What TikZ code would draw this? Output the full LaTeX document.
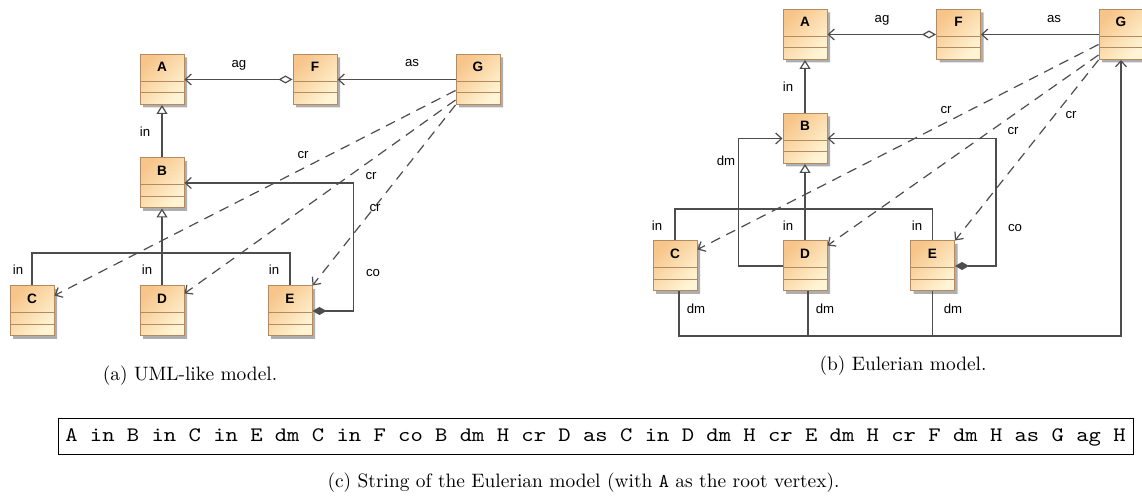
\documentclass[tikz,border=0pt]{standalone}
\usepackage{fontspec}
\newfontfamily\umlfont{Liberation Sans}
\usetikzlibrary{arrows.meta,shapes.multipart,shadows}

\definecolor{clsdark}{HTML}{F7C58A}
\definecolor{clslight}{HTML}{FFF5D6}
\definecolor{clsline}{HTML}{B48A60}
\definecolor{wirecol}{HTML}{4D4D4D}

\begin{document}
\begin{tikzpicture}[x=0.5pt,y=-0.5pt,>={Straight Barb[length=3pt,width=5.5pt]},
    wire/.style={draw=wirecol,line width=0.6pt},
    crl/.style={wire,->,dash pattern=on 5pt off 3.5pt},
    inh/.style={wire,-{Triangle[open,length=4.5pt,width=5.5pt]}},
    agg/.style={wire,{Diamond[open,length=7pt,width=4pt]}->},
    comp/.style={wire,{Diamond[length=7pt,width=4pt]}->},
    cls/.style={rectangle split,rectangle split parts=3,draw=clsline,line width=0.5pt,
      minimum width=22pt,inner sep=0pt,
      rectangle split empty part height=5.25pt,rectangle split empty part depth=0pt,
      top color=clsdark,bottom color=clslight,shading angle=45,
      drop shadow={shadow xshift=1.5pt,shadow yshift=-1.5pt,fill=black!45,opacity=0.7},
      execute at begin node={\rule[-4.6pt]{0pt}{13pt}},
      font=\umlfont\bfseries\fontsize{6.8}{7}\selectfont},
    lbl/.style={anchor=base,inner sep=0pt,font=\umlfont\fontsize{6.6}{7}\selectfont},
    captext/.style={inner sep=0pt,font=\fontsize{9.7}{12}\selectfont}]

  \useasboundingbox (0,0) rectangle (1142,501);

  % (a) UML-like model
  \node[cls] (uA) at (162,79.5) {A};
  \node[cls] (uF) at (315,79.5) {F};
  \node[cls] (uG) at (478,79.5) {G};
  \node[cls] (uB) at (162,183) {B};
  \node[cls] (uC) at (32,311) {C};
  \node[cls] (uD) at (162,311) {D};
  \node[cls] (uE) at (290,311) {E};
  \coordinate (utree) at (162,253);

  \draw[agg] (uF) -- (uA);
  \draw[wire,->] (uG) -- (uF);
  \draw[inh] (uB) -- (uA);
  \draw[wire] (uC.north) |- (utree) -| (uE.north);
  \draw[inh] (uD) -- (uB);
  \draw[comp] (uE.east) -- ++(41,0) |- (uB.east);
  \draw[crl] ([yshift=-5.5pt]uG.west) -- ([yshift=-5pt]uC.north east);
  \draw[crl] ([yshift=2.5pt]uG.south west) -- ([yshift=-4pt]uD.north east);
  \draw[crl] (uG.south west) -- (uE.north east);

  \node[lbl] (uag) at (239,68) {ag};
  \node[lbl] (uas) at (412,67) {as};
  \node[lbl] (uinb) at (145,137) {in};
  \node[lbl] (uinc) at (18,275) {in};
  \node[lbl] (uind) at (147,275) {in};
  \node[lbl] (uine) at (274,275) {in};
  \node[lbl] (uco) at (373,277) {co};
  \node[lbl] (ucrc) at (303,159) {cr};
  \node[lbl] (ucrd) at (371,180) {cr};
  \node[lbl] (ucre) at (375,212) {cr};

  % (b) Eulerian model
  \node[cls] (eA) at (805,34.5) {A};
  \node[cls] (eF) at (958.5,34.5) {F};
  \node[cls] (eG) at (1121,34.5) {G};
  \node[cls] (eB) at (805,138.5) {B};
  \node[cls] (eC) at (675,266) {C};
  \node[cls] (eD) at (805,266) {D};
  \node[cls] (eE) at (932.5,266) {E};
  \coordinate (etree) at (805,209);
  \coordinate (ebus) at (0,336);

  \draw[agg] (eF) -- (eA);
  \draw[wire,->] (eG) -- (eF);
  \draw[inh] (eB) -- (eA);
  \draw[wire] (eC.north) |- (etree) -| (eE.north);
  \draw[inh] (eD) -- (eB);
  \draw[wire,->] (eD.west) -- ++(-44,0) |- (eB.west);
  \draw[comp] (eE.east) -- ++(41,0) |- (eB.east);
  \draw[wire,->] ([xshift=2pt]eC.south) -- ([xshift=2pt]eC.south |- ebus) -| (eG.south);
  \draw[wire] ([xshift=1.5pt]eD.south) -- ([xshift=1.5pt]eD.south |- ebus);
  \draw[wire] (eE.south) -- (eE.south |- ebus);
  \draw[crl] ([yshift=-5pt]eG.west) -- ([yshift=-4.5pt]eC.north east);
  \draw[crl] ([yshift=2.5pt]eG.south west) -- ([yshift=-2.5pt]eD.north east);
  \draw[crl] (eG.south west) -- (eE.north east);

  \node[lbl] (eag) at (882,23) {ag};
  \node[lbl] (eas) at (1054,23) {as};
  \node[lbl] (einb) at (788,92) {in};
  \node[lbl] (ecrc) at (946,114) {cr};
  \node[lbl] (ecrd) at (1013,135) {cr};
  \node[lbl] (ecre) at (1071,119) {cr};
  \node[lbl] (edmb) at (726,166) {dm};
  \node[lbl] (einc) at (657,231) {in};
  \node[lbl] (eind) at (788,231) {in};
  \node[lbl] (eine) at (917,231) {in};
  \node[lbl] (eco) at (1015,232) {co};
  \node[lbl] (edmc) at (696,314) {dm};
  \node[lbl] (edmd) at (825,314) {dm};
  \node[lbl] (edme) at (953,314) {dm};

  % captions and the string
  \node[captext] (capa) at (190,376) {(a) UML-like model.};
  \node[captext] (capb) at (903,366) {(b) Eulerian model.};
  \node[draw,line width=0.5pt,minimum width=537.5pt,minimum height=18pt,inner sep=0pt,
        font=\fontsize{10.3}{12}\selectfont\ttfamily] (estr) at (595.5,437)
    {\scalebox{1.14}[1]{A in B in C in E dm C in F co B dm H cr D as C in D dm H cr E dm H cr F dm H as G ag H}};
  \node[captext] (capc) at (583.5,483) {(c) String of the Eulerian model (with \texttt{A} as the root vertex).};
\end{tikzpicture}
\end{document}
